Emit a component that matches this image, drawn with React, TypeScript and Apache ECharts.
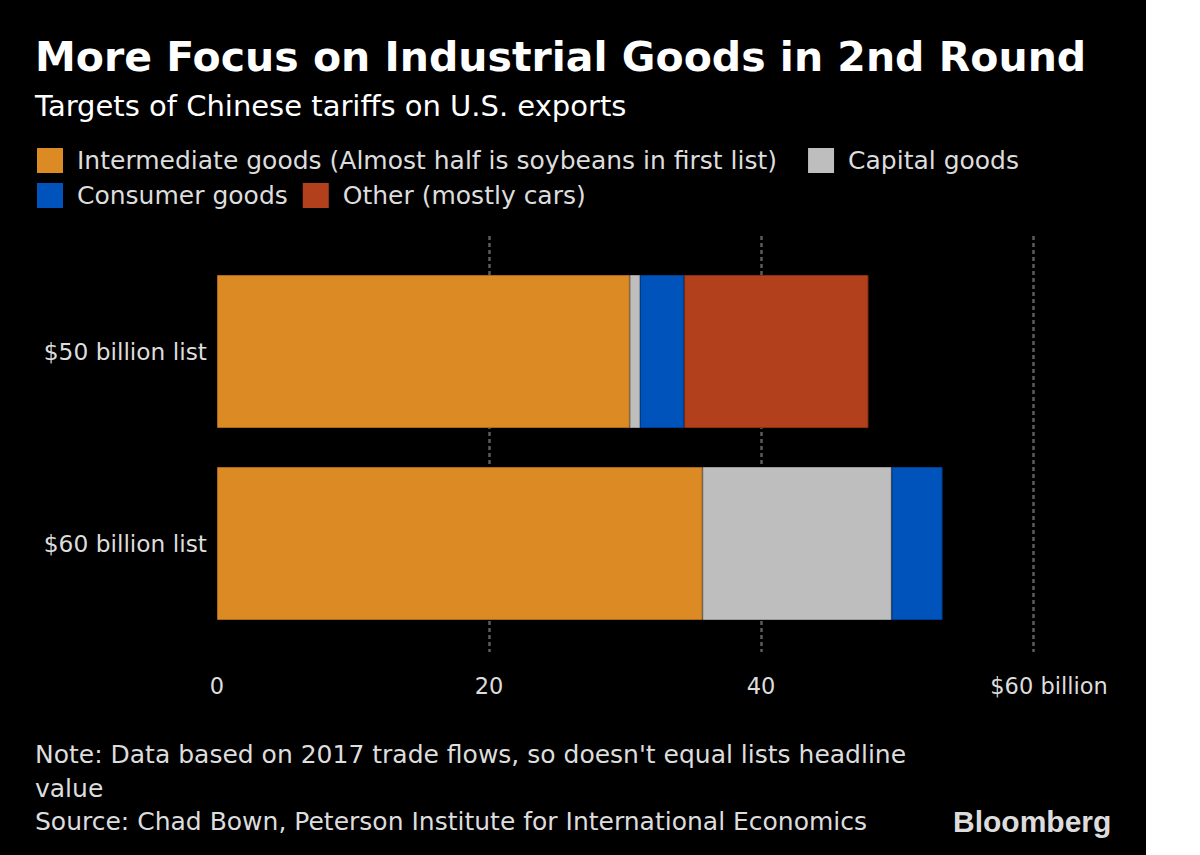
import React, { useEffect, useRef } from "react";
import * as echarts from "echarts";

const categories = ["$50 billion list", "$60 billion list"];
const seriesNames = [
  "Intermediate goods (Almost half is soybeans in first list)",
  "Capital goods",
  "Consumer goods",
  "Other (mostly cars)",
];
const intermediate = [30.35, 35.7];
const capital = [0.75, 13.9];
const consumer = [3.25, 3.75];
const other: (number | null)[] = [13.55, null];
const xTicks = { min: 0, max: 60, interval: 20 };

const colors = ["#DB8A24", "#BEBEBE", "#0053BB", "#B2401D"];
const borders = ["#A8691B", "#9A9A9A", "#003E8C", "#86300F"];

const FONT = "DejaVu Sans";

export default function App() {
  const ref = useRef<HTMLDivElement>(null);
  useEffect(() => {
    if (!ref.current) return;
    const chart = echarts.init(ref.current, undefined, { renderer: "svg" });
    const values = [intermediate, capital, consumer, other];
    const legendStyle = {
      left: 37,
      itemWidth: 26,
      itemHeight: 25,
      itemGap: 22,
      padding: 0,
      icon: "rect",
      selectedMode: false,
      itemStyle: { borderWidth: 0 },
      textStyle: {
        fontFamily: FONT,
        fontSize: 25,
        color: "#dddddd",
        padding: [0, 0, 0, 9],
      },
    };
    chart.setOption({
      animation: false,
      backgroundColor: "#000000",
      textStyle: { fontFamily: FONT },
      legend: [
        { ...legendStyle, top: 148, itemGap: 31, data: [seriesNames[0], seriesNames[1]] },
        { ...legendStyle, top: 183, itemGap: 15, data: [seriesNames[2], seriesNames[3]] },
      ],
      grid: [
        { left: 217, width: 816, top: 255.5, height: 384 },
        { left: 217, width: 816, top: 236, height: 416 },
      ],
      xAxis: [
        {
          gridIndex: 0,
          type: "value",
          min: xTicks.min,
          max: xTicks.max,
          interval: xTicks.interval,
          show: false,
        },
        {
          gridIndex: 1,
          type: "value",
          min: xTicks.min,
          max: xTicks.max,
          interval: xTicks.interval,
          axisLine: { show: false },
          axisTick: { show: false },
          splitLine: {
            show: true,
            showMinLine: false,
            lineStyle: { color: "#5c5c5c", width: 2.5, type: [4, 3] },
          },
          axisLabel: {
            margin: 22,
            fontFamily: FONT,
            fontSize: 22.5,
            color: "#dddddd",
            formatter: (v: number) =>
              v === xTicks.max ? "{a|$" + v + " billion}" : String(v),
            rich: {
              a: {
                fontFamily: FONT,
                fontSize: 22.5,
                color: "#dddddd",
                padding: [0, 0, 0, 32],
              },
            },
          },
        },
      ],
      yAxis: [
        {
          gridIndex: 0,
          type: "category",
          data: categories,
          inverse: true,
          axisLine: { show: false },
          axisTick: { show: false },
          axisLabel: {
            margin: 10,
            fontFamily: FONT,
            fontSize: 23.3,
            color: "#dddddd",
          },
        },
        {
          gridIndex: 1,
          type: "category",
          data: categories,
          show: false,
        },
      ],
      series: seriesNames.map((name, i) => ({
        name,
        type: "bar",
        stack: "total",
        xAxisIndex: 0,
        yAxisIndex: 0,
        barWidth: 153,
        data: values[i],
        itemStyle: { color: colors[i], borderColor: borders[i], borderWidth: 1 },
      })),
      graphic: [
        {
          type: "text",
          x: 35,
          y: 57,
          style: {
            text: "More Focus on Industrial Goods in 2nd Round",
            fontFamily: FONT,
            fontWeight: "bold",
            fontSize: 41,
            fill: "#ffffff",
            verticalAlign: "middle",
          },
        },
        {
          type: "text",
          x: 35,
          y: 106,
          style: {
            text: "Targets of Chinese tariffs on U.S. exports",
            fontFamily: FONT,
            fontSize: 29,
            fill: "#ffffff",
            verticalAlign: "middle",
          },
        },
        {
          type: "text",
          x: 35,
          y: 754,
          style: {
            text: "Note: Data based on 2017 trade flows, so doesn't equal lists headline",
            fontFamily: FONT,
            fontSize: 25,
            fill: "#dddddd",
            verticalAlign: "middle",
          },
        },
        {
          type: "text",
          x: 35,
          y: 788,
          style: {
            text: "value",
            fontFamily: FONT,
            fontSize: 25,
            fill: "#dddddd",
            verticalAlign: "middle",
          },
        },
        {
          type: "text",
          x: 35,
          y: 821,
          style: {
            text: "Source: Chad Bown, Peterson Institute for International Economics",
            fontFamily: FONT,
            fontSize: 25,
            fill: "#dddddd",
            verticalAlign: "middle",
          },
        },
        {
          type: "text",
          x: 953,
          y: 821,
          style: {
            text: "Bloomberg",
            fontFamily: "Liberation Sans",
            fontWeight: "bold",
            fontSize: 30,
            fill: "#dcdcdc",
            verticalAlign: "middle",
          },
        },
      ],
    });
    return () => chart.dispose();
  }, []);
  return (
    <div
      style={{
        position: "absolute",
        left: 0,
        top: 0,
        width: 1200,
        height: 855,
        background: "#ffffff",
      }}
    >
      <div ref={ref} style={{ width: 1146, height: 855 }} />
    </div>
  );
}
